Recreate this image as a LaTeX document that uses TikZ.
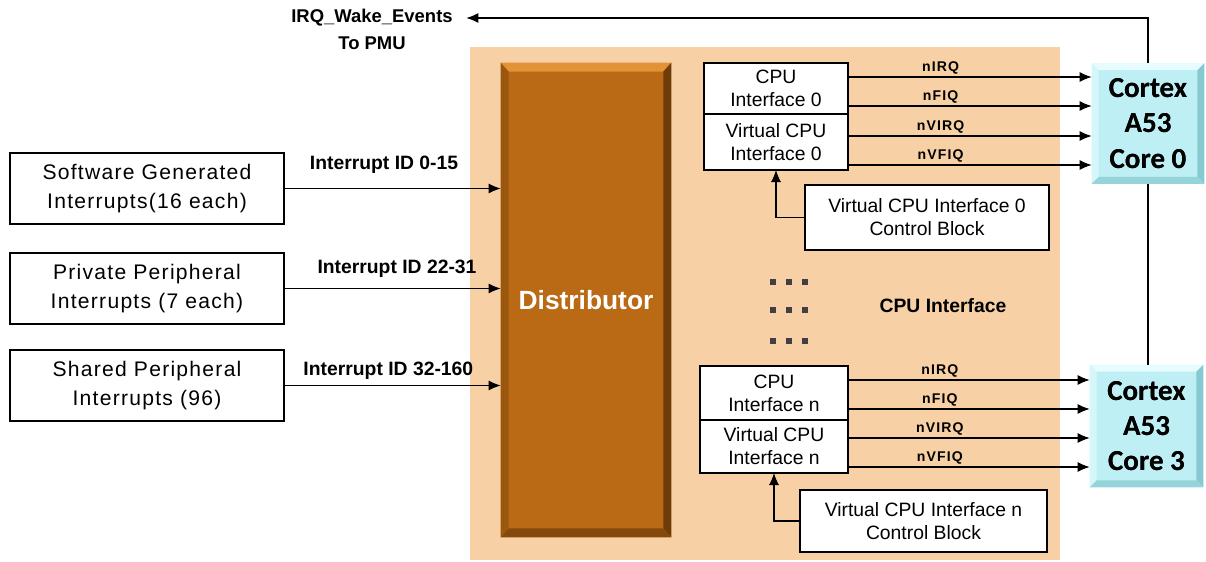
\documentclass[tikz,border=0pt]{standalone}
\usepackage{fontspec}
\setmainfont{Liberation Sans}
\newfontfamily\spacedfont[LetterSpace=6]{Liberation Sans}
\newfontfamily\sigfont[LetterSpace=8]{Liberation Sans}
\newfontfamily\corefont{Carlito}
\usetikzlibrary{arrows.meta,positioning}
\definecolor{peach}{HTML}{F7D0A5}
\definecolor{distcol}{HTML}{BA6914}
\definecolor{distlight}{HTML}{E39236}
\definecolor{distdark}{HTML}{6E3C08}
\definecolor{corecol}{HTML}{BDEFF4}
\definecolor{corelight}{HTML}{E6FCFE}
\definecolor{coredark}{HTML}{86C9D1}
\tikzset{
  srcbox/.style={draw, thick, fill=white, minimum width=54.8mm, minimum height=14.2mm, align=center, font=\spacedfont\fontsize{12}{16.5}\selectfont},
  ifbox/.style={draw, thick, fill=white, outer sep=0pt, inner sep=1pt, minimum width=28.8mm, align=center, font=\fontsize{11}{13}\selectfont},
  ctlbox/.style={draw, thick, fill=white, align=center, font=\fontsize{11}{13}\selectfont},
  corebox/.style={fill=corecol, align=center, font=\corefont\bfseries\fontsize{16.5}{20}\selectfont},
  idlabel/.style={font=\bfseries\fontsize{11}{13}\selectfont},
  siglabel/.style={font=\sigfont\bfseries\fontsize{8}{9}\selectfont, above, inner sep=1.5pt, pos=0.38}
}

\begin{document}
\begin{tikzpicture}[x=0.2mm, y=-0.2mm, >={Latex[length=2.4mm,width=2mm]}]
  \useasboundingbox (0,0) rectangle (1206,562);
  \node[fill=peach, minimum width=118mm, minimum height=102.6mm] (cpuss) at (765,303.5) {};
  \node[fill=distcol, minimum width=34mm, minimum height=94.8mm, text=white, font=\bfseries\fontsize{15}{18}\selectfont] (dist) at (586,300) {Distributor};
  \fill[distlight] (dist.north west) -- (dist.north east) -- ([shift={(-1.6mm,-1.8mm)}]dist.north east) -- ([shift={(1.6mm,-1.8mm)}]dist.north west) -- cycle;
  \fill[distdark] (dist.north east) -- (dist.south east) -- ([shift={(-1.6mm,1.8mm)}]dist.south east) -- ([shift={(-1.6mm,-1.8mm)}]dist.north east) -- cycle;
  \fill[distdark!70!distcol] (dist.south west) -- (dist.south east) -- ([shift={(-1.6mm,1.8mm)}]dist.south east) -- ([shift={(1.6mm,1.8mm)}]dist.south west) -- cycle;
  \fill[distdark!40!distcol] (dist.north west) -- ([shift={(1.6mm,-1.8mm)}]dist.north west) -- ([shift={(1.6mm,1.8mm)}]dist.south west) -- (dist.south west) -- cycle;

  \node[srcbox] (sgi) at (147,188.5) {Software Generated\\Interrupts(16 each)};
  \node[srcbox] (ppi) at (147,288.5) {Private Peripheral\\Interrupts (7 each)};
  \node[srcbox] (spi) at (147,385.5) {Shared Peripheral\\Interrupts (96)};

  \node[ifbox, minimum height=10.2mm] (cif0) at (776,88.5) {CPU\\Interface 0};
  \node[ifbox, minimum height=11.2mm, below=0pt of cif0] (vcif0) {Virtual CPU\\Interface 0};
  \node[ctlbox, minimum width=48.8mm, minimum height=13mm] (ctl0) at (927,217.5) {Virtual CPU Interface 0\\Control Block};
  \node[ifbox, minimum width=29.6mm, minimum height=10.8mm] (cifn) at (774,393) {CPU\\Interface n};
  \node[ifbox, minimum width=29.6mm, minimum height=10.6mm, below=0pt of cifn] (vcifn) {Virtual CPU\\Interface n};
  \node[ctlbox, minimum width=49.4mm, minimum height=12.4mm] (ctln) at (923.5,521) {Virtual CPU Interface n\\Control Block};

  \node[idlabel] (cpuif) at (943,306) {CPU Interface};
  \foreach \y in {282,310,341}
    \foreach \x in {773,789,805}
      \fill[black!75] (\x,\y) +(-3,-3) rectangle +(3,3);

  \node[corebox, minimum width=22.4mm, minimum height=24mm] (core0) at (1148,123.5) {Cortex\\A53\\Core 0};
  \node[corebox, minimum width=22.6mm, minimum height=24.4mm] (core3) at (1146.5,426) {Cortex\\A53\\Core 3};
  \foreach \c in {core0,core3} {
    \fill[corelight] (\c.north west) -- (\c.north east) -- ([shift={(-1.4mm,-1.4mm)}]\c.north east) -- ([shift={(1.4mm,-1.4mm)}]\c.north west) -- cycle;
    \fill[corelight!60!corecol] (\c.north west) -- ([shift={(1.4mm,-1.4mm)}]\c.north west) -- ([shift={(1.4mm,1.4mm)}]\c.south west) -- (\c.south west) -- cycle;
    \fill[coredark] (\c.north east) -- (\c.south east) -- ([shift={(-1.4mm,1.4mm)}]\c.south east) -- ([shift={(-1.4mm,-1.4mm)}]\c.north east) -- cycle;
    \fill[coredark!70!corecol] (\c.south west) -- (\c.south east) -- ([shift={(-1.4mm,1.4mm)}]\c.south east) -- ([shift={(1.4mm,1.4mm)}]\c.south west) -- cycle;
  }
  \node[corebox, fill=none] at (core0) {Cortex\\A53\\Core 0};
  \node[corebox, fill=none] at (core3) {Cortex\\A53\\Core 3};

  \node[idlabel, font=\bfseries\fontsize{10.5}{12}\selectfont] (wake) at (372,18) {IRQ\_Wake\_Events};
  \node[idlabel, font=\bfseries\fontsize{10.5}{12}\selectfont] (pmu) at (372,43) {To PMU};

  \path[->, semithick]
    (sgi.east) edge node[idlabel, above=1.8mm, pos=0.46] {Interrupt ID 0-15} (sgi.east -| dist.west)
    (ppi.east) edge node[idlabel, above=1mm, pos=0.52] {Interrupt ID 22-31} (ppi.east -| dist.west)
    (spi.east) edge node[idlabel, above=0mm, pos=0.48] {Interrupt ID 32-160} (spi.east -| dist.west);
  \path[->, semithick]
    ([yshift=2.3mm]cif0.east) edge node[siglabel] {nIRQ} ([yshift=2.3mm]cif0.east -| core0.west)
    ([yshift=-3.5mm]cif0.east) edge node[siglabel] {nFIQ} ([yshift=-3.5mm]cif0.east -| core0.west)
    ([yshift=1.2mm]vcif0.east) edge node[siglabel] {nVIRQ} ([yshift=1.2mm]vcif0.east -| core0.west)
    ([yshift=-4.6mm]vcif0.east) edge node[siglabel] {nVFIQ} ([yshift=-4.6mm]vcif0.east -| core0.west)
    ([yshift=2.6mm]cifn.east) edge node[siglabel] {nIRQ} ([yshift=2.6mm]cifn.east -| core3.west)
    ([yshift=-3.2mm]cifn.east) edge node[siglabel] {nFIQ} ([yshift=-3.2mm]cifn.east -| core3.west)
    ([yshift=1.7mm]vcifn.east) edge node[siglabel] {nVIRQ} ([yshift=1.7mm]vcifn.east -| core3.west)
    ([yshift=-4.1mm]vcifn.east) edge node[siglabel] {nVFIQ} ([yshift=-4.1mm]vcifn.east -| core3.west);
  \draw[->, semithick] (ctl0.west) -| (vcif0.south);
  \draw[->, semithick] (ctln.west) -| (vcifn.south);
  \draw[->, semithick] (core0.north) |- ([xshift=1.5mm]wake.east);
  \draw[semithick] (core0.south) -- (core0.south |- core3.north);
\end{tikzpicture}
\end{document}
